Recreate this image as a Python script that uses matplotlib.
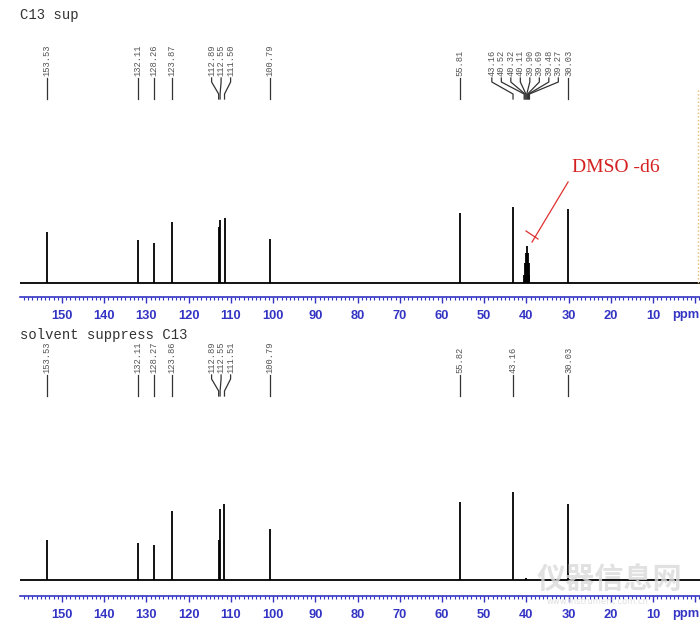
import matplotlib
matplotlib.use('Agg')
import matplotlib.pyplot as plt
from matplotlib.ticker import MultipleLocator
from matplotlib.lines import Line2D

# peak lists (ppm, height)
top_ppm = [153.53, 132.11, 128.26, 123.87, 112.89, 112.55, 111.50, 100.79,
           55.81, 43.16, 40.52, 40.32, 40.11, 39.90, 39.69, 39.48, 39.27, 30.03]
top_height = [51, 43, 40, 61, 56, 63, 65, 44,
              70, 76, 8, 20, 30, 37, 30, 20, 8, 74]
top_labels = ['153.53', '132.11', '128.26', '123.87', '112.89', '112.55', '111.50', '100.79',
              '55.81', '43.16', '40.52', '40.32', '40.11', '39.90', '39.69', '39.48', '39.27', '30.03']

bot_ppm = [153.53, 132.11, 128.27, 123.86, 112.89, 112.55, 111.51, 100.79,
           55.82, 43.16, 40.0, 30.03]
bot_height = [40, 37, 35, 69, 40, 71, 76, 51, 78, 88, 2, 76]
bot_labels = ['153.53', '132.11', '128.27', '123.86', '112.89', '112.55', '111.51', '100.79',
              '55.82', '43.16', None, '30.03']

x_ticks = list(range(0, 151, 10))
x_ticklabels = [''] + [str(v) for v in x_ticks[1:]]

BLUE = '#3434c4'
XLIM = (159.95, -1.13)


def spread(ppms, gap):
    # group close peaks and spread their labels evenly around the group mean
    groups = [[p] for p in ppms]
    merged = True
    while merged:
        merged = False
        for i in range(len(groups) - 1):
            a, b = groups[i], groups[i + 1]
            a_last = sum(a) / len(a) - gap * (len(a) - 1) / 2
            b_first = sum(b) / len(b) + gap * (len(b) - 1) / 2
            if a_last - b_first < gap:
                groups[i] = a + b
                del groups[i + 1]
                merged = True
                break
    pos = []
    for g in groups:
        c = sum(g) / len(g)
        pos += [c + gap * ((len(g) - 1) / 2 - k) for k in range(len(g))]
    return pos


def draw_panel(ax, ppm, height, labels, ymin):
    ax.plot(XLIM, [0, 0], color='black', lw=1.3)
    ax.vlines(ppm, 0, height, color='black', lw=1.3)
    lab_ppm = [p for p, l in zip(ppm, labels) if l]
    lab_txt = [l for l in labels if l]
    pos = spread(lab_ppm, 2.25)
    for p, lp, t in zip(lab_ppm, pos, lab_txt):
        ax.plot([lp, lp, p, p], [205, 201, 189, 184], color='#333333', lw=0.9,
                clip_on=False)
        ax.text(lp, 207, t, rotation=90, ha='center', va='bottom',
                fontsize=6.3, family='Liberation Mono', color='#555555')
    ax.set_xlim(*XLIM)
    ax.set_ylim(ymin, ymin + 265)
    for s in ['top', 'left', 'right']:
        ax.spines[s].set_visible(False)
    ax.spines['bottom'].set_color(BLUE)
    ax.spines['bottom'].set_linewidth(1.2)
    ax.set_yticks([])
    ax.set_xticks(x_ticks)
    ax.set_xticklabels(x_ticklabels)
    ax.xaxis.set_minor_locator(MultipleLocator(1))
    ax.tick_params(axis='x', which='major', direction='out', length=4, width=1,
                   color=BLUE, labelcolor=BLUE, pad=5.5, labelsize=9.3)
    ax.tick_params(axis='x', which='minor', direction='out', length=2, width=0.8,
                   color=BLUE)
    for lbl in ax.get_xticklabels():
        lbl.set_fontweight('bold')
        lbl.set_family('Liberation Sans')
    ax.text(2.2, -0.068, 'ppm', transform=ax.get_xaxis_transform(), ha='center',
            va='center', fontsize=9.3, fontweight='bold', color=BLUE,
            family='Liberation Sans')
    ax.patch.set_alpha(0)


fig = plt.figure(figsize=(7, 6.35), dpi=100)
W, H = 700, 635

# watermark (drawn first, under everything)
fig.text(609 / W, 1 - 580 / H, '仪器信息网', fontsize=21, fontweight='bold',
         family=['Noto Sans CJK SC', 'DejaVu Sans'], color='#dadada',
         ha='center', va='center', alpha=0.8, zorder=0)
fig.text(598 / W, 1 - 602 / H, 'www.instrument.com.cn', fontsize=6,
         color='#e0e0e0', ha='center', va='center', zorder=0)

ax1 = fig.add_axes([20 / W, (H - 297) / H, 680 / W, 265 / H])
draw_panel(ax1, top_ppm, top_height, top_labels, -14)

ax2 = fig.add_axes([20 / W, (H - 596) / H, 680 / W, 265 / H])
draw_panel(ax2, bot_ppm, bot_height, bot_labels, -16)

# panel titles
fig.text(20 / W, 1 - 15 / H, 'C13 sup', fontsize=10, family='Liberation Mono',
         color='#333333', va='center')
fig.text(20 / W, 1 - 335 / H, 'solvent suppress C13', fontsize=10,
         family='Liberation Mono', color='#333333', va='center')

# DMSO-d6 annotation
ax1.plot([38.65, 30.12], [41, 101], color='#e03030', lw=0.9)
ax1.plot([40.08, 37.24], [52, 44], color='#e03030', lw=0.9)
ax1.text(29.2, 115, 'DMSO -d6', color='#d42020', fontsize=14,
         family='Liberation Serif', va='center', ha='left')

# dotted trace at the right edge
fig.add_artist(Line2D([698 / W, 698 / W], [1 - 90 / H, 1 - 285 / H],
                      color='#e8b870', lw=1, ls=':'))

fig.savefig('out.png', dpi=100)
